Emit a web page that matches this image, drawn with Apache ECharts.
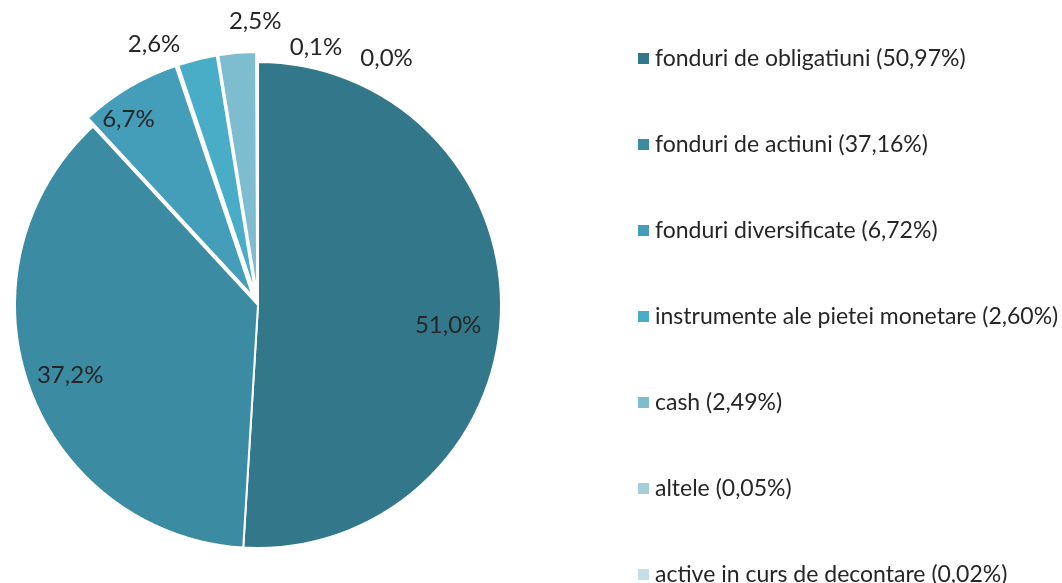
<!DOCTYPE html>
<html lang="ro">
<head>
    <meta charset="UTF-8">
    <title>Structura portofoliului</title>
    <script type="text/javascript" src="https://cdn.jsdelivr.net/npm/echarts@6/dist/echarts.min.js"></script>
</head>
<body style="height: 583px; margin: 0; width: 1062px; background: #fff">
<div id="container" style="height: 100%; width: 100%"></div>
<script type="text/javascript">
    // categorii si ponderi (%)
    var categorii = ['fonduri de obligatiuni', 'fonduri de actiuni', 'fonduri diversificate',
        'instrumente ale pietei monetare', 'cash', 'altele', 'active in curs de decontare'];
    var ponderi = [50.97, 37.16, 6.72, 2.60, 2.49, 0.05, 0.02];
    var culori = ['#33788a', '#3b8ba3', '#449db9', '#4aadc7', '#7ebccf', '#a5cddb', '#c5dde8'];

    function fmt(v, d) {
        return v.toFixed(d).replace('.', ',') + '%';
    }

    var dom = document.getElementById("container");
    var myChart = echarts.init(dom);

    // lungimi linii eticheta (ascunse) si mici ajustari ale etichetelor
    var labelLines = [
        {length: -30, length2: -58},
        {length: -30, length2: -45},
        {length: -25, length2: -5},
        {length: 8, length2: 0},
        {length: 8, length2: 0},
        {length: 8, length2: 0},
        {length: 8, length2: 0}
    ];
    var labelNudge = [[-3, 14], [6, -1], [13, 10], [-10, -7], [50, -24], [90, 3], [160, 14]];

    var dataPie = [];
    categorii.forEach(function (name, i) {
        dataPie.push({
            name: name,
            value: ponderi[i],
            selected: i >= 2,
            itemStyle: {color: culori[i]},
            labelLine: {show: false, length: labelLines[i].length, length2: labelLines[i].length2}
        });
    });

    var option = {
        animation: false,
        legend: {
            orient: 'vertical',
            left: 631,
            top: 42,
            height: 580,
            itemWidth: 13,
            itemHeight: 13,
            itemGap: 63,
            icon: 'rect',
            textStyle: {fontFamily: 'Lato', fontSize: 23, color: '#262626'},
            formatter: function (name) {
                var i = categorii.indexOf(name);
                return name + ' (' + fmt(ponderi[i], 2) + ')';
            },
            data: categorii
        },
        series: [{
            type: 'pie',
            center: [258, 305],
            radius: 243,
            startAngle: 90,
            clockwise: true,
            avoidLabelOverlap: false,
            selectedMode: 'multiple',
            selectedOffset: 10,
            itemStyle: {borderColor: '#fff', borderWidth: 2},
            label: {
                show: true,
                position: 'outside',
                fontFamily: 'Lato',
                fontSize: 24,
                color: '#262626',
                formatter: function (p) {
                    return fmt(p.value, 1);
                }
            },
            labelLayout: function (p) {
                var n = labelNudge[p.dataIndex];
                return {hideOverlap: false, moveOverlap: false, dx: n[0], dy: n[1]};
            },
            emphasis: {disabled: true},
            data: dataPie
        }]
    };
    myChart.setOption(option);
</script>
</body>
</html>
